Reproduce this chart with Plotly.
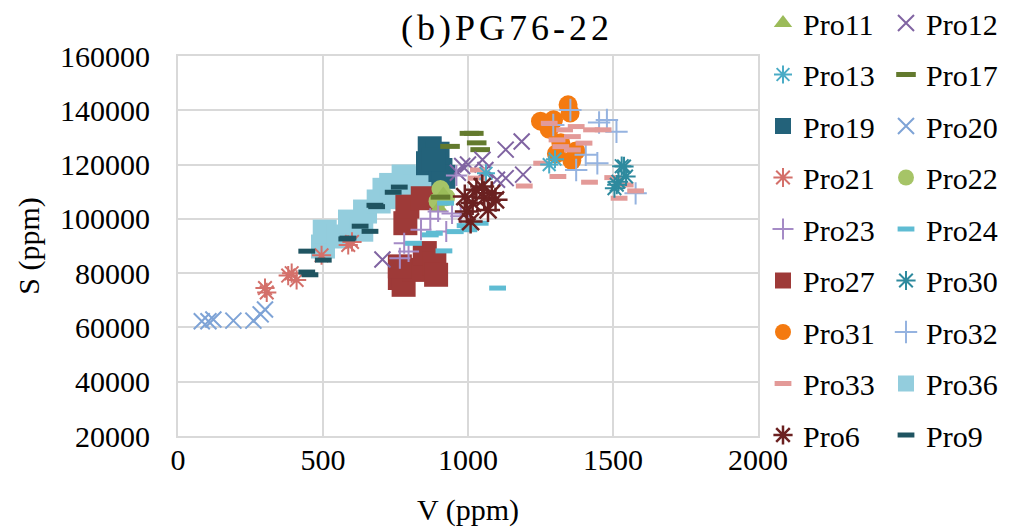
import plotly.graph_objects as go

# ---- data (V ppm, S ppm) ----
pro11_v = [900, 915]
pro11_s = [104000, 109000]
pro12_v = [705, 965, 980, 1000, 1050, 1100, 1130, 1185, 1130, 1190, 1060]
pro12_s = [85000, 117000, 119500, 120000, 121800, 114400, 125500, 128500, 115000, 116300, 118000]
pro13_v = [1062, 1280, 1300]
pro13_s = [116800, 120000, 122000]
pro17_v = [1005, 1020, 1030, 1042, 938, 905]
pro17_s = [131500, 131500, 128000, 125500, 126700, 108000]
pro19_v = [868, 895, 862, 905, 915, 880]
pro19_s = [126000, 124000, 120500, 118000, 115500, 122000]
pro20_v = [82, 105, 122, 191, 260, 285, 300]
pro20_s = [62300, 62300, 62900, 62500, 62500, 64800, 66600]
pro21_v = [306, 300, 380, 392, 409, 495, 587, 600]
pro21_s = [72900, 74500, 79100, 80000, 77500, 86600, 90400, 91500]
pro22_v = [905, 925, 895]
pro22_s = [111000, 108000, 106500]
pro23_v = [765, 780, 795, 838, 870, 897, 925, 945, 975, 960]
pro23_s = [85500, 91000, 88000, 96000, 100000, 102700, 95300, 102000, 101000, 116000]
pro24_v = [1102, 917, 956, 870, 884, 1042, 923, 1003, 812, 990]
pro24_s = [74500, 88200, 95300, 94100, 94700, 98400, 105800, 96000, 91000, 97500]
pro27_v = [784, 791, 844, 765, 778, 817, 851, 884, 890, 765]
pro27_s = [98400, 104500, 107600, 78200, 75700, 81200, 87400, 83700, 79400, 82500]
pro30_v = [1538, 1530, 1505, 1519, 1545, 1513]
pro30_s = [119300, 119400, 111300, 113700, 115600, 112600]
pro31_v = [1250, 1295, 1345, 1352, 1280, 1305, 1358, 1372, 1320]
pro31_s = [136000, 136500, 142000, 139000, 133000, 124000, 121500, 125000, 128000]
pro32_v = [1452, 1512, 1446, 1373, 1353, 1406, 1578, 1294, 1479]
pro32_s = [135500, 132100, 120500, 118000, 140100, 123600, 109400, 134600, 136400]
pro33_v = [1280, 1333, 1373, 1426, 1466, 1307, 1360, 1400, 1320, 1360,
           1254, 1310, 1419, 1499, 1542, 1578, 1521, 1194, 1036, 1029]
pro33_s = [135200, 132800, 134000, 132800, 132800, 129100, 130300, 127900, 126600, 125400,
           120500, 115600, 113500, 115200, 112500, 110300, 107600, 112100, 118000, 115000]
pro36_v = [500, 506, 553, 593, 632, 645, 692, 712, 778, 791, 844, 870, 818, 735, 760]
pro36_s = [89800, 95300, 93500, 99000, 96000, 102700, 106400, 110700, 115600, 111900, 115000, 110700, 108200, 112500, 108000]
pro6_v = [1016, 1056, 1095, 1082, 1029, 996, 1009, 1069, 1049, 989]
pro6_s = [105800, 107600, 107000, 109400, 110700, 102700, 99000, 103300, 111900, 108200]
pro9_v = [444, 444, 455, 501, 582, 628, 662, 679, 742, 763, 586, 685]
pro9_s = [88100, 80400, 79400, 84800, 92600, 97300, 95400, 105000, 109800, 111700, 92900, 104500]

legend_col1 = ["Pro11", "Pro13", "Pro19", "Pro21", "Pro23", "Pro27", "Pro31", "Pro33", "Pro6"]
legend_col2 = ["Pro12", "Pro17", "Pro20", "Pro22", "Pro24", "Pro30", "Pro32", "Pro36", "Pro9"]

data = {
    "Pro11": (pro11_v, pro11_s), "Pro12": (pro12_v, pro12_s), "Pro13": (pro13_v, pro13_s),
    "Pro17": (pro17_v, pro17_s), "Pro19": (pro19_v, pro19_s), "Pro20": (pro20_v, pro20_s),
    "Pro21": (pro21_v, pro21_s), "Pro22": (pro22_v, pro22_s), "Pro23": (pro23_v, pro23_s),
    "Pro24": (pro24_v, pro24_s), "Pro27": (pro27_v, pro27_s), "Pro30": (pro30_v, pro30_s),
    "Pro31": (pro31_v, pro31_s), "Pro32": (pro32_v, pro32_s), "Pro33": (pro33_v, pro33_s),
    "Pro36": (pro36_v, pro36_s), "Pro6": (pro6_v, pro6_s), "Pro9": (pro9_v, pro9_s),
}

# symbol, color, size, line width (0 => filled)
styles = {
    "Pro11": ("triangle-up", "#9BBB59", 16, 0),
    "Pro12": ("x-thin", "#8064A2", 16, 2),
    "Pro13": ("asterisk", "#4BACC6", 15, 2),
    "Pro17": ("line-ew", "#637A2E", 14, 5),
    "Pro19": ("square", "#23627A", 24, 0),
    "Pro20": ("x-thin", "#7EA3D6", 16, 2),
    "Pro21": ("asterisk", "#D4706A", 16, 2),
    "Pro22": ("circle", "#A6C467", 18, 0),
    "Pro23": ("cross-thin", "#A58BC6", 15, 2),
    "Pro24": ("line-ew", "#5FBCD3", 12, 5),
    "Pro27": ("square", "#9E3A38", 24, 0),
    "Pro30": ("asterisk", "#2E8A9E", 16, 2),
    "Pro31": ("circle", "#F47A10", 19, 0),
    "Pro32": ("cross-thin", "#95B3E0", 16, 2),
    "Pro33": ("line-ew", "#E39A98", 12, 5),
    "Pro36": ("square", "#93CDDD", 24, 0),
    "Pro6": ("asterisk", "#6B2121", 20, 2.5),
    "Pro9": ("line-ew", "#1F5461", 12, 5),
}

draw_order = ["Pro36", "Pro19", "Pro27", "Pro22", "Pro11", "Pro17", "Pro12", "Pro23", "Pro24",
              "Pro31", "Pro32", "Pro33", "Pro13", "Pro30", "Pro20", "Pro21", "Pro6", "Pro9"]

FONT = "Liberation Serif"
fig = go.Figure()
for name in draw_order:
    v, s = data[name]
    sym, col, size, lw = styles[name]
    if name in legend_col1:
        leg, rank = "legend", legend_col1.index(name)
    else:
        leg, rank = "legend2", legend_col2.index(name)
    if lw > 0:
        marker = dict(symbol=sym, size=size, color=col, line=dict(color=col, width=lw))
    else:
        marker = dict(symbol=sym, size=size, color=col, line=dict(width=0))
    fig.add_trace(go.Scatter(x=v, y=s, mode="markers", name=name, marker=marker,
                             legend=leg, legendrank=rank + 1, legendgroup=name))

W, H = 1023, 530
L, R, T, B = 178, 758, 56, 436
grid = "#D9D9D9"
legend_common = dict(font=dict(family=FONT, size=30, color="#000"), tracegroupgap=9.5,
                     bgcolor="rgba(0,0,0,0)", xanchor="left", yanchor="top",
                     itemwidth=30, traceorder="grouped", maxheight=H)
fig.update_layout(
    width=W, height=H,
    margin=dict(l=L, r=W - R, t=T, b=H - B, autoexpand=False),
    paper_bgcolor="white", plot_bgcolor="white",
    font=dict(family=FONT, size=29, color="#000"),
    title=dict(text='<span style="letter-spacing:4px">(b)PG76-22</span>',
               font=dict(family=FONT, size=36, color="#000"),
               xref="container", x=507 / W, xanchor="center",
               yref="container", y=1 - 27 / H, yanchor="middle"),
    xaxis=dict(range=[0, 2000], dtick=500, tick0=0, showgrid=True, gridcolor=grid, gridwidth=2,
               showline=True, linecolor=grid, linewidth=2, mirror=True, zeroline=False,
               ticks="", ticklabelstandoff=-4, tickfont=dict(family=FONT, size=30, color="#000"),
               title=dict(text="V (ppm)", font=dict(family=FONT, size=30, color="#000"), standoff=24)),
    yaxis=dict(range=[20000, 160000], dtick=20000, tick0=0, showgrid=True, gridcolor=grid, gridwidth=2,
               showline=True, linecolor=grid, linewidth=2, mirror=True, zeroline=False,
               ticks="", ticklabelstandoff=20, tickformat="d",
               tickfont=dict(family=FONT, size=30, color="#000"),
               title=dict(text="S (ppm)", font=dict(family=FONT, size=30, color="#000"), standoff=12)),
    legend=dict(x=(763 - L) / (R - L), y=(B + 3) / (B - T), **legend_common),
    legend2=dict(x=(886 - L) / (R - L), y=(B + 3) / (B - T), **legend_common),
)

fig.write_html("out.html")
